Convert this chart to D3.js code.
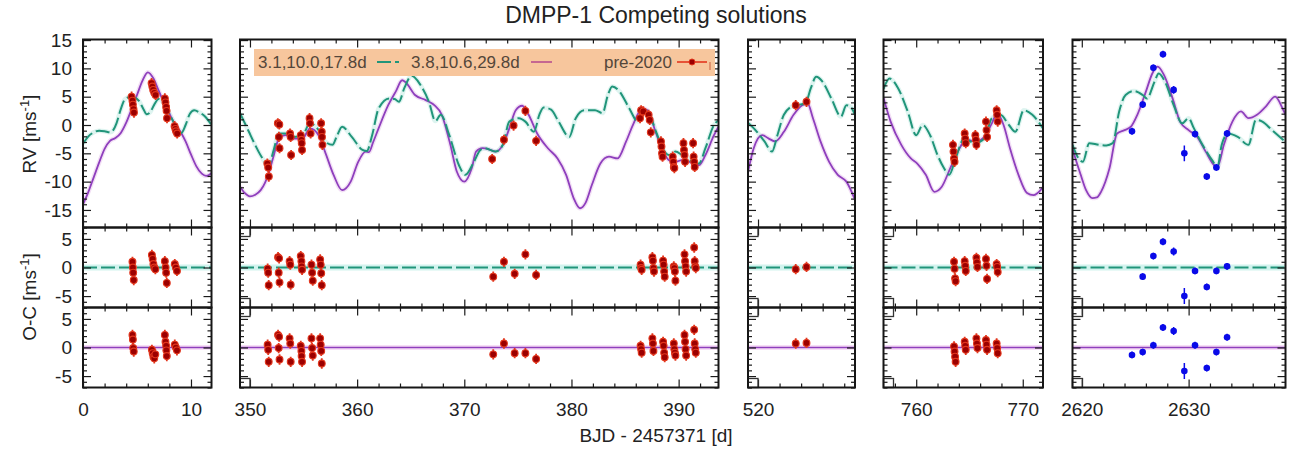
<!DOCTYPE html>
<html><head><meta charset="utf-8">
<script src="https://cdn.jsdelivr.net/npm/d3@7"></script>
<style>body{margin:0;background:#fff} svg{display:block}</style>
</head><body><svg id="c" width="1291" height="449"></svg>
<script>
// ---------------- DATA ----------------
const titleText = "DMPP-1 Competing solutions";
const xLabel = "BJD - 2457371 [d]";
const seriesNames = ["3.1,10.0,17.8d", "3.8,10.6,29.8d", "pre-2020"];
const colDomains = [[0,11.9],[349.07,393.72],[519.07,529.0],[756.93,771.9],[2619.13,2639.07]];
const rvDomain = [-18.1, 15.1];
const ocDomain = [-7, 7];

// model A (green dashed) per segment
const greenC1 = [[0,-3.3],[0.5,-2],[1,-1.3],[1.5,-1],[2,-1.1],[2.5,-1.3],[2.8,-0.9],[3.1,0.3],[3.5,2.8],[3.9,4.6],[4.3,4.9],[4.8,4.8],[5.2,4.2],[5.6,2.8],[5.9,1.9],[6.2,2.2],[6.6,3.6],[7.0,4.6],[7.5,3.8],[8,2],[8.5,0.1],[9.1,-1.4],[9.5,0],[9.9,2],[10.3,2.6],[10.8,2.2],[11.3,1.5],[11.9,0]];
const greenC2 = [[349.07,2.1],[349.5,0.4],[349.9,-1.2],[350.4,-3.2],[350.8,-4.7],[351.3,-6.3],[351.7,-7.4],[352.2,-4.5],[352.7,-1.5],[353.3,-1.5],[354.1,-2.1],[354.9,-1.8],[355.6,0.3],[356.4,-0.9],[357,-2.9],[357.7,-3.5],[358.1,-2.0],[358.6,-0.3],[359.5,-2.1],[360.5,-4.4],[360.9,-4.6],[361.4,-1.8],[362,2.9],[363,4.7],[363.5,4.6],[363.9,4.1],[364.4,6.5],[365.1,8.7],[365.9,7.1],[366.7,4.1],[367.3,0.7],[367.8,1.8],[368.6,-1.8],[369.5,-7.1],[370.1,-8.8],[370.9,-6.5],[371.5,-4.4],[371.9,-4.1],[372.9,-4.7],[373.6,-3.5],[374.2,0.6],[375.1,1.2],[375.7,0.6],[376.5,-1.2],[377,1.8],[377.4,3.1],[378.1,2.7],[378.8,0.6],[379.8,-2.1],[380.4,1.2],[381.2,2.6],[382.2,2.6],[382.9,2.1],[383.4,5.3],[383.8,6.8],[384.5,5.9],[385.4,2.9],[386.2,0.6],[386.6,2.6],[387.1,2.4],[387.9,-1.2],[388.5,-4.1],[389.1,-5.3],[389.7,-4.7],[390.3,-5.3],[391,-6.2],[391.9,-6.8],[392.5,-4.1],[393.3,0],[393.72,0.8]];
const greenC3 = [[519.07,0.4],[519.9,-1.2],[520.6,-2.9],[521.3,-4.7],[521.8,-1.8],[522.4,1.8],[523.3,3.4],[524.4,3.8],[524.9,6.5],[525.4,8.5],[526,7.6],[526.8,4.7],[527.7,1.5],[528.2,3.5],[528.6,3.2],[529,1.8]];
const greenC4 = [[756.93,6.4],[757.5,8.2],[758.3,6.5],[759.2,2.4],[760,-1.8],[760.6,0],[761.3,-1.8],[762,-5.3],[762.6,-7.6],[763.1,-8.8],[763.7,-5.9],[764.5,-2.4],[765.5,-3.2],[766.4,-2.4],[767.1,1.2],[767.9,1.8],[768.7,0],[769.3,-1.2],[770.1,2.6],[770.9,1.8],[771.9,-0.6]];
const greenC5 = [[2619.13,-3.5],[2619.6,-5.6],[2620.1,-6.5],[2620.7,-3.2],[2621.6,-3.5],[2622.3,-3.6],[2622.9,-3.2],[2623.5,2.4],[2624.1,5.3],[2624.9,6.0],[2625.7,5.3],[2626.1,4.7],[2626.8,7.6],[2627.2,9.1],[2627.8,7.6],[2628.6,3.5],[2629.4,0.3],[2630,1.2],[2630.5,-0.6],[2631.3,-3.5],[2632.2,-6.2],[2632.7,-7.4],[2633.1,-3.5],[2633.7,-1.5],[2634.6,-2.1],[2635.6,-3.5],[2636.3,0.9],[2636.9,0.6],[2637.8,-0.9],[2639.07,-3.0]];

// model B (purple solid) per segment
const purpleC1 = [[0,-14],[0.5,-11.8],[1,-9.2],[1.5,-6.6],[2,-4.2],[2.5,-2.8],[3,-2.3],[3.5,-1.4],[4,0.4],[4.5,2.8],[5,5.3],[5.5,7.8],[6,9.3],[6.5,8.3],[7,6.1],[7.5,3.9],[8,2],[8.5,0.2],[9,-1.1],[9.5,-2.9],[10,-5.2],[10.5,-7.3],[11,-8.6],[11.4,-9],[11.9,-8.5]];
const purpleC2 = [[349.07,-10.9],[349.5,-12.0],[350,-12.6],[350.5,-12.3],[351,-11.5],[351.4,-10.2],[351.7,-8.8],[352.2,-5.5],[352.7,-2.4],[353.3,-1.8],[354.1,-2.4],[354.9,-2.4],[355.6,-0.6],[356.4,-1.8],[357,-4.7],[357.8,-8.8],[358.6,-11.5],[359.4,-10],[360.1,-6.5],[360.8,-4.7],[361.1,-4.8],[361.5,-3.0],[362,-0.6],[362.9,3.5],[363.6,5.9],[364.2,7.9],[364.5,7.6],[365.4,5.3],[366.4,4.4],[367.2,3.5],[367.9,1.8],[368.7,-3.5],[369.3,-8.2],[370,-10],[370.7,-7.6],[371.1,-4.7],[371.7,-4.1],[372.3,-4.3],[372.9,-4.7],[373.6,-3.5],[374.2,-0.6],[374.8,2.6],[375.4,3.4],[376,1.8],[376.8,-1.5],[377.8,-4.1],[378.7,-5.9],[379.5,-8.8],[380.2,-12.9],[380.8,-14.7],[381.3,-13.8],[381.9,-10.6],[382.7,-6.8],[383.5,-5.6],[384.3,-5.9],[385.1,-2.9],[385.8,0.3],[386.6,2.9],[387.1,2.6],[387.9,-1.5],[388.5,-4.4],[389.1,-6.2],[389.7,-6.5],[390.3,-6.2],[391,-6.5],[391.9,-7.1],[392.5,-5.3],[393.3,-1.8],[393.72,-0.3]];
const purpleC3 = [[519.07,-8.3],[519.6,-4.1],[520.4,-1.8],[521.0,-2.4],[521.6,-2.9],[522.4,-1.2],[523.3,1.8],[524.1,3.5],[524.6,3.8],[525.1,1.2],[525.8,-2.9],[526.6,-6.5],[527.4,-8.8],[528.2,-10],[529,-13.2]];
const purpleC4 = [[756.93,4.8],[757.6,0.6],[758.6,-3.5],[759.5,-5.9],[760.1,-6.8],[760.9,-8.8],[761.7,-11.8],[762.4,-10.9],[763.2,-7.6],[763.9,-4.7],[764.7,-2.6],[765.6,-2.9],[766.4,-2.1],[767.1,0.3],[767.6,2.1],[768.2,0],[768.8,-4.1],[769.6,-8.8],[770.4,-12],[771,-12.4],[771.9,-11.0]];
const purpleC5 = [[2619.13,-4.1],[2619.5,-6.5],[2619.9,-8.8],[2620.4,-11.5],[2621,-12.9],[2621.4,-12.8],[2621.8,-11.8],[2622.6,-7.6],[2623.3,-1.5],[2624,-0.9],[2624.6,-0.3],[2625.2,1.8],[2626,5.9],[2626.6,9.1],[2627.1,10.3],[2627.7,8.8],[2628.5,4.7],[2629.2,0.6],[2630,-0.9],[2630.8,-2.1],[2631.6,-4.7],[2632.4,-7.1],[2632.7,-7.4],[2633.3,-3.5],[2634.1,0.6],[2634.9,2.4],[2635.6,1.2],[2636.4,1.8],[2637.2,3.2],[2638.1,5.0],[2638.8,2.9],[2639.07,1.8]];

// pre-2020 RVs (red)
const preT = [4.5,4.58,4.62,4.68,4.72, 6.35,6.42,6.5,6.6,6.72, 7.58,7.64,7.7,7.74,7.78, 8.48,8.56,8.62,8.72,
 351.62,351.7,351.76, 352.6,352.74,352.7,352.76, 353.74,353.8,353.84, 354.74,354.8,354.83,354.86, 355.56,355.6,355.66, 356.64,356.7,356.72,356.76,
 372.6,373.7,374.6,375.7,376.7, 386.4,386.5,386.7,387.2,387.3,387.4, 388.35,388.4,388.45,388.5, 389.45,389.5,389.55,389.6, 390.45,390.5,390.55,390.6, 391.35,391.4,391.45,391.5,
 523.5,524.5,
 763.45,763.5,763.55,763.6, 764.55,764.6,764.65, 765.55,765.6,765.65, 766.55,766.6,766.65, 767.55,767.6,767.65];
const preRV = [5.0,4.3,3.6,2.8,2.2, 7.4,6.8,6.2,5.7,5.3, 4.7,4.0,3.2,2.5,1.2, -0.2,-0.7,-1.1,-1.5,
 -6.8,-7.5,-9.1, 0.3,0.1,-2.1,-4.1, -1.5,-2.1,-5.3, -1.8,-2.6,-3.2,-4.4, 1.2,0.3,-1.5, 0.3,-1.2,-2.1,-3.5,
 -6.0,-2.6,-0.1,2.5,-2.8, 1.2,2.6,2.4,1.8,0.9,-1.3, -2.9,-3.8,-5.0,-5.6, -5.6,-6.5,-7.4,-7.6, -3.2,-4.4,-5.3,-6.5, -3.2,-5.6,-6.5,-7.4,
 3.5,4.1,
 -3.5,-4.7,-5.9,-6.5, -1.5,-2.4,-3.2, -1.8,-2.6,-3.5, 0.6,-0.9,-2.1, 2.6,1.8,0.6];
const preErr = 0.9;

// pre-2020 residuals, model A
const ocAT = [4.58,4.62,4.65,4.7, 6.38,6.45,6.52,6.6,6.7, 7.58,7.65,7.7,7.76, 8.5,8.6,8.7,
 351.65,351.7,351.75, 352.62,352.72,352.68,352.76, 353.7,353.76,353.8, 354.74,354.8,354.82,354.86, 355.74,355.8,355.86, 356.55,356.6,356.65,356.7,
 372.7,373.7,374.7,375.7,376.7, 386.45,386.5,386.55, 387.55,387.6,387.65,387.7, 388.55,388.6,388.65,388.7, 389.55,389.6,389.65,389.7, 390.55,390.6,390.65,390.7, 391.45,391.5,391.55,391.6,
 523.5,524.5,
 763.55,763.6,763.65,763.7, 764.55,764.6,764.65, 765.65,765.7,765.75, 766.55,766.6,766.65, 767.55,767.6,767.65];
const ocA = [1.0,0,-0.9,-2.2, 2.2,1.5,0.6,0,-0.3, 1.1,0,-0.9,-2.7, 0.6,0,-0.6,
 -0.2,-0.9,-3.1, 1.8,1.6,-0.9,-2.6, 1.1,0.5,-3.0, 2.0,1.1,0.2,-0.4, 0.5,-0.9,-2.3, 1.4,0.5,-1.0,-3.1,
 -1.6,1.0,-1.1,2.3,-1.3, 0.5,-0.1,-0.4, 1.8,1.2,-0.1,-0.7, 1.2,0.5,-0.7,-1.6, 0.2,-0.1,-0.7,-2.3, 2.3,1.1,0.2,-0.7, 3.5,1.1,0.2,-0.1,
 -0.3,0.1,
 1.0,-0.2,-1.9,-2.4, 1.1,0.3,-0.6, 1.7,0.9,0.1, 1.5,0.3,-2.0, 0.6,0.1,-0.8];

// pre-2020 residuals, model B
const ocBT = [4.58,4.62,4.65,4.7, 6.38,6.45,6.52,6.6,6.7, 7.58,7.64,7.7,7.72,7.76, 8.5,8.6,8.7,
 351.65,351.7,351.75, 352.62,352.72,352.68,352.76, 353.7,353.76,353.8, 354.74,354.8,354.82,354.86, 355.74,355.8,355.86, 356.55,356.6,356.65,356.7,
 372.7,373.7,374.7,375.7,376.7, 386.45,386.5,386.55, 387.55,387.6,387.65, 388.55,388.6,388.65,388.7, 389.55,389.6,389.65,389.7, 390.55,390.6,390.65,390.7, 391.45,391.5,391.55,391.6,
 523.5,524.5,
 763.55,763.6,763.65,763.7, 764.55,764.6,764.65, 765.65,765.7,765.75, 766.55,766.6,766.65, 767.55,767.6,767.65];
const ocB = [2.2,1.4,-0.1,-0.7, -0.4,-1.0,-1.6,-1.9,-1.2, 2.2,1.0,0.3,-0.5,-1.5, 0.5,0,-0.5,
 0.5,-0.4,-2.5, 2.2,1.9,-0.1,-2.1, 1.6,0.7,-2.5, 0.3,-0.6,-1.5,-2.5, 1.6,-0.1,-1.4, 1.6,0.5,-0.6,-2.8,
 -1.2,0.7,-1.0,-1.0,-2.0, 0.3,-0.3,-0.9, 1.6,0.7,-0.6, 1.0,0.3,-0.9,-1.7, 0.7,-0.3,-0.9,-1.4, 2.2,1.0,-0.3,-1.4, 3.1,0.7,-0.3,-0.9,
 0.7,0.8,
 0.2,-0.7,-1.6,-2.5, 1.0,0.3,-0.4, 1.6,0.7,-0.1, 1.3,0.5,-0.4, 0.7,-0.1,-1.0];

// new RVs (blue)
const newT = [2624.7,2625.7,2626.7,2627.6,2628.6,2629.6,2630.6,2631.7,2632.6,2633.6];
const newRV = [-1.1,3.6,10.1,12.5,6.2,-5.0,-1.6,-9.1,-7.5,-1.5];
const newErr = [0.6,0.6,0.6,0.6,0.7,1.4,0.6,0.6,0.6,0.6];
const newOcA = [-7.6,-1.6,2.0,4.5,2.8,-5.0,-0.6,-3.4,-0.6,0.2];
const newOcB = [-1.3,-0.8,0.4,3.5,2.9,-4.1,0.4,-3.6,-0.8,1.8];

// ---------------- LAYOUT / STYLE ----------------
const FONT = '"Liberation Sans", Arial, Helvetica, sans-serif';
const colPx = [[83,211.5],[240,718.5],[748,855],[883.5,1043],[1072.5,1285.5]];
const rowPx = [[39.5,227.5],[227.5,307.5],[307.5,387.5]];
const rowDom = [rvDomain, ocDomain, ocDomain];
const greens = [greenC1, greenC2, greenC3, greenC4, greenC5];
const purples = [purpleC1, purpleC2, purpleC3, purpleC4, purpleC5];
const GREEN = "#21957a", PURPLE = "#8e3fbd", RED_F = "#9c0000", RED_S = "#e2361d", BLUE = "#0a0ae8";
const DASH = "14,4";

const svg = d3.select("#c");
const defs = svg.append("defs");

function styleAxis(g){
  g.select(".domain").remove();
  g.selectAll(".tick line").attr("stroke", "#1a1a1a").attr("stroke-width", 1.2);
  g.attr("font-family", FONT);
}

colDomains.forEach((cd, i) => {
  const x = d3.scaleLinear().domain(cd).range(colPx[i]);
  const majorX = d3.range(Math.ceil(cd[0]/10)*10, cd[1] + 1e-9, 10);
  const minorX = d3.range(Math.ceil(cd[0]/2)*2, cd[1] + 1e-9, 2).filter(v => v % 10 !== 0);
  rowPx.forEach((rp, j) => {
    const rd = rowDom[j];
    const y = d3.scaleLinear().domain(rd).range([rp[1], rp[0]]);
    const majorY = d3.range(Math.ceil(rd[0]/5)*5, rd[1] + 1e-9, 5);
    const minorY = d3.range(Math.ceil(rd[0]), rd[1] + 1e-9, 1).filter(v => v % 5 !== 0);
    const id = `clip-${i}-${j}`;
    defs.append("clipPath").attr("id", id).append("rect")
      .attr("x", colPx[i][0]).attr("y", rp[0]).attr("width", colPx[i][1]-colPx[i][0]).attr("height", rp[1]-rp[0]);
    const g = svg.append("g").attr("clip-path", `url(#${id})`);
    const line = d3.line().x(d => x(d[0])).y(d => y(d[1])).curve(d3.curveMonotoneX);

    if (j === 0) {
      g.append("path").attr("d", line(purples[i])).attr("fill","none").attr("stroke","#e9c9ef").attr("stroke-width",4.5).attr("opacity",0.6);
      g.append("path").attr("d", line(greens[i])).attr("fill","none").attr("stroke","#c8ece6").attr("stroke-width",4.5).attr("opacity",0.6);
      g.append("path").attr("d", line(purples[i])).attr("fill","none").attr("stroke",PURPLE).attr("stroke-width",1.8);
      g.append("path").attr("d", line(greens[i])).attr("fill","none").attr("stroke",GREEN).attr("stroke-width",2).attr("stroke-dasharray",DASH);
    } else if (j === 1) {
      const zl = [[cd[0],0],[cd[1],0]];
      g.append("path").attr("d", line(zl)).attr("stroke","#d2f3ee").attr("stroke-width",6);
      g.append("path").attr("d", line(zl)).attr("stroke",GREEN).attr("stroke-width",1.8).attr("stroke-dasharray",DASH);
    } else {
      const zl = [[cd[0],0],[cd[1],0]];
      g.append("path").attr("d", line(zl)).attr("stroke","#f6def6").attr("stroke-width",5);
      g.append("path").attr("d", line(zl)).attr("stroke",PURPLE).attr("stroke-width",1.5);
    }

    // points
    const inDom = t => t >= cd[0] && t <= cd[1];
    const ts = j === 0 ? preT : (j === 1 ? ocAT : ocBT);
    const vs = j === 0 ? preRV : (j === 1 ? ocA : ocB);
    const pre = d3.range(Math.min(ts.length, vs.length)).map(k => [ts[k], vs[k]]).filter(d => inDom(d[0]));
    const pg = g.append("g");
    pg.selectAll("line.e").data(pre).join("line")
      .attr("x1", d => x(d[0])).attr("x2", d => x(d[0]))
      .attr("y1", d => y(d[1]-preErr)).attr("y2", d => y(d[1]+preErr))
      .attr("stroke", RED_S).attr("stroke-width", 1.8);
    pg.selectAll("circle").data(pre).join("circle")
      .attr("cx", d => x(d[0])).attr("cy", d => y(d[1])).attr("r", 3.4)
      .attr("fill", RED_F).attr("stroke", RED_S).attr("stroke-width", 1.1);

    const nv = j === 0 ? newRV : (j === 1 ? newOcA : newOcB);
    const nw = newT.map((t, k) => [t, nv[k], newErr[k]]).filter(d => inDom(d[0]));
    const ng = g.append("g");
    ng.selectAll("line").data(nw).join("line")
      .attr("x1", d => x(d[0])).attr("x2", d => x(d[0]))
      .attr("y1", d => y(d[1]-d[2])).attr("y2", d => y(d[1]+d[2]))
      .attr("stroke", BLUE).attr("stroke-width", 1.5);
    ng.selectAll("circle").data(nw).join("circle")
      .attr("cx", d => x(d[0])).attr("cy", d => y(d[1])).attr("r", 3.3).attr("fill", BLUE);

    // ticks
    const top = rp[0], bot = rp[1], L = colPx[i][0], R = colPx[i][1];
    [[minorX,4],[majorX,8]].forEach(([vals,len]) => {
      svg.append("g").attr("transform",`translate(0,${bot})`).call(d3.axisBottom(x).tickValues(vals).tickSize(-len).tickFormat("")).call(styleAxis);
      svg.append("g").attr("transform",`translate(0,${top})`).call(d3.axisTop(x).tickValues(vals).tickSize(-len).tickFormat("")).call(styleAxis);
    });
    [[minorY,4],[majorY,8]].forEach(([vals,len]) => {
      svg.append("g").attr("transform",`translate(${L},0)`).call(d3.axisLeft(y).tickValues(vals).tickSize(-len).tickFormat("")).call(styleAxis);
      svg.append("g").attr("transform",`translate(${R},0)`).call(d3.axisRight(y).tickValues(vals).tickSize(-len).tickFormat("")).call(styleAxis);
    });
    if (i === 0) {
      const ax = svg.append("g").attr("transform",`translate(${L},0)`)
        .call(d3.axisLeft(y).tickValues(majorY).tickSize(0).tickPadding(11).tickFormat(d => String(d)));
      ax.select(".domain").remove();
      ax.selectAll("text").attr("font-family", FONT).attr("font-size", 19).attr("fill", "#222");
    }
    if (j === 2) {
      const ax = svg.append("g").attr("transform",`translate(0,${bot})`)
        .call(d3.axisBottom(x).tickValues(majorX).tickSize(0).tickPadding(15).tickFormat(d => String(d)));
      ax.select(".domain").remove();
      ax.selectAll("text").attr("font-family", FONT).attr("font-size", 19).attr("fill", "#222");
    }
    if (i > 0 && j > 0) {
      [top, bot - 9].forEach(yy => {
        svg.append("rect").attr("x", L).attr("y", yy).attr("width", 10).attr("height", 9)
          .attr("fill","none").attr("stroke","#333").attr("stroke-width",1.3);
      });
    }
    // frame
    svg.append("rect").attr("x", L).attr("y", top).attr("width", R-L).attr("height", bot-top)
      .attr("fill","none").attr("stroke","#161616").attr("stroke-width",2);
  });
});

// title & labels
svg.append("text").attr("x", 656).attr("y", 23).attr("text-anchor","middle")
  .attr("font-family", FONT).attr("font-size", 23).attr("fill","#222").text(titleText);
svg.append("text").attr("x", 656).attr("y", 442).attr("text-anchor","middle")
  .attr("font-family", FONT).attr("font-size", 19).attr("fill","#222").text(xLabel);

function yLab(cy, main){
  const t = svg.append("text").attr("transform",`translate(36,${cy}) rotate(-90)`).attr("text-anchor","middle")
    .attr("font-family", FONT).attr("font-size", 19).attr("fill","#222");
  t.append("tspan").text(main + " [ms");
  t.append("tspan").attr("font-size", 13).attr("dy", -7).text("-1");
  t.append("tspan").attr("dy", 7).text("]");
}
yLab(134, "RV");
yLab(297, "O-C");

// legend
const lg = svg.append("g");
lg.append("rect").attr("x",254).attr("y",49).attr("width",461).attr("height",27).attr("fill","#f7c69d");
const lt = (x, s, anchor) => lg.append("text").attr("x",x).attr("y",68).attr("text-anchor",anchor||"start")
  .attr("font-family",FONT).attr("font-size",17).attr("fill","#54463a").text(s);
lt(258, seriesNames[0]);
lg.append("line").attr("x1",377).attr("x2",399).attr("y1",62).attr("y2",62).attr("stroke",GREEN).attr("stroke-width",2).attr("stroke-dasharray",DASH);
lt(411, seriesNames[1]);
lg.append("line").attr("x1",531).attr("x2",552).attr("y1",62).attr("y2",62).attr("stroke","#b8508f").attr("stroke-width",1.6);
lt(672, seriesNames[2], "end");
lg.append("line").attr("x1",677).attr("x2",707).attr("y1",62).attr("y2",62).attr("stroke",RED_S).attr("stroke-width",1.6);
lg.append("circle").attr("cx",692).attr("cy",62).attr("r",3).attr("fill",RED_F).attr("stroke",RED_S);
lg.append("line").attr("x1",710).attr("x2",710).attr("y1",62).attr("y2",70).attr("stroke","#d07050").attr("stroke-width",1.2);
</script></body></html>
